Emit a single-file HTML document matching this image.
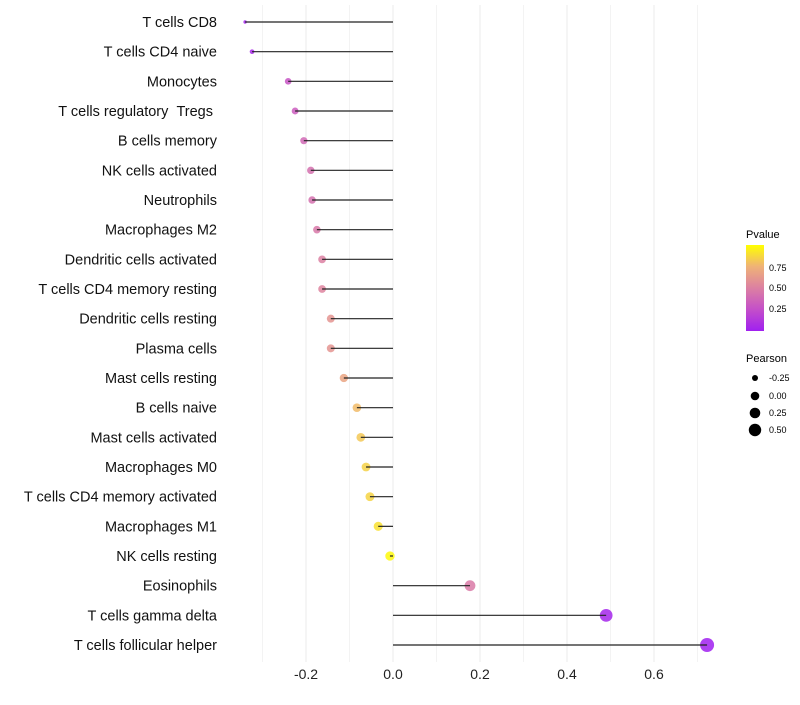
<!DOCTYPE html>
<html><head><meta charset="utf-8"><style>
body{margin:0;background:#fff;font-family:"Liberation Sans",sans-serif}
</style></head><body>
<svg id="chart" width="800" height="700" xmlns="http://www.w3.org/2000/svg">
<defs><linearGradient id="pg" x1="0" y1="1" x2="0" y2="0">
<stop offset="0" stop-color="#a020f0"/><stop offset="0.25" stop-color="#c44fc9"/><stop offset="0.5" stop-color="#dc80a2"/><stop offset="0.75" stop-color="#efb277"/><stop offset="1" stop-color="#ffff00"/>
</linearGradient></defs>
<g id="grid"></g><g id="dots"></g><g id="marks"></g><g id="labels"></g>
<g font-size="10">
<text x="746" y="238" font-size="11">Pvalue</text>
<rect x="746" y="245" width="18" height="86" fill="url(#pg)"/>
<text x="769" y="271" font-size="9">0.75</text><text x="769" y="291" font-size="9">0.50</text><text x="769" y="312" font-size="9">0.25</text>
<text x="746" y="362" font-size="11">Pearson</text>
<circle cx="755" cy="378" r="3"/><text x="769" y="381" font-size="9">-0.25</text>
<circle cx="755" cy="396" r="4.3"/><text x="769" y="399" font-size="9">0.00</text>
<circle cx="755" cy="413" r="5.3"/><text x="769" y="416" font-size="9">0.25</text>
<circle cx="755" cy="430" r="6.2"/><text x="769" y="433" font-size="9">0.50</text>
</g>
</svg>
<script>
const categories=["T cells CD8","T cells CD4 naive","Monocytes","T cells regulatory\u00a0\u00a0Tregs\u00a0","B cells memory","NK cells activated","Neutrophils","Macrophages M2","Dendritic cells activated","T cells CD4 memory resting","Dendritic cells resting","Plasma cells","Mast cells resting","B cells naive","Mast cells activated","Macrophages M0","T cells CD4 memory activated","Macrophages M1","NK cells resting","Eosinophils","T cells gamma delta","T cells follicular helper"];
const pearson=[-0.340,-0.324,-0.241,-0.225,-0.205,-0.189,-0.186,-0.175,-0.163,-0.163,-0.143,-0.143,-0.113,-0.083,-0.074,-0.062,-0.053,-0.034,-0.007,0.177,0.490,0.722];
const pvalue=[0.02,0.05,0.28,0.32,0.38,0.42,0.42,0.46,0.5,0.52,0.6,0.6,0.68,0.78,0.82,0.85,0.86,0.9,0.98,0.47,0.03,0.0];
const ticks=[-0.2,0.0,0.2,0.4,0.6];
const NS="http://www.w3.org/2000/svg";
const x=v=>393+v*435;
const y=i=>22+i*(623/21);
const r=v=>1.7+5.3*Math.sqrt(Math.max(0,(v+0.34)/1.06));
const stops=[[160,32,240],[196,79,201],[220,128,162],[239,178,119],[255,255,0]];
function col(p){p=Math.max(0,Math.min(1,p));const t=p*4,i=Math.min(3,Math.floor(t)),f=t-i;const a=stops[i],b=stops[i+1];return `rgb(${a.map((c,k)=>Math.round(c+(b[k]-c)*f)).join(',')})`;}
function mk(tag,at,parent){const e=document.createElementNS(NS,tag);for(const k in at)e.setAttribute(k,at[k]);parent.appendChild(e);return e;}
const grid=document.getElementById('grid'),marks=document.getElementById('marks'),dots=document.getElementById('dots'),labels=document.getElementById('labels');
for(let g=-3;g<=7;g++){const l=mk('line',{x1:x(g/10),x2:x(g/10),y1:5,y2:662,stroke:g%2==0?'#ebebeb':'#f3f3f3','stroke-width':1},grid);

}
ticks.forEach(t=>{const e=mk('text',{x:x(t),y:679,'text-anchor':'middle','font-size':14,fill:'#222'},labels);e.textContent=t.toFixed(1);

});
categories.forEach((c,i)=>{
const t=mk('text',{x:217,y:y(i)+5,'text-anchor':'end','font-size':14.5,fill:'#111'},labels);t.textContent=c;


const l=mk('line',{x1:x(0),x2:x(pearson[i]),y1:y(i),y2:y(i),stroke:'#222','stroke-width':1.2},marks);


const d=mk('circle',{cx:x(pearson[i]),cy:y(i),r:r(pearson[i]),fill:col(pvalue[i]),'fill-opacity':0.85},dots);


});
</script>
</body></html>
